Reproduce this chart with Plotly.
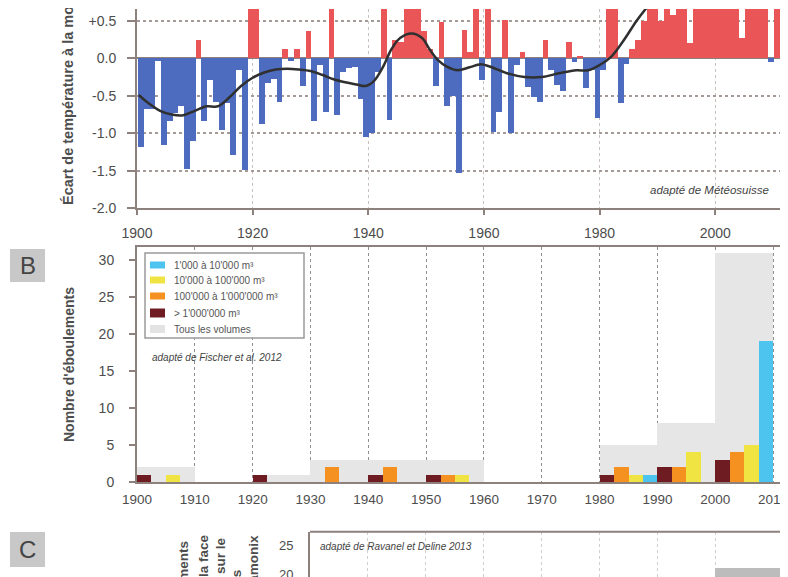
import plotly.graph_objects as go

# The page body has an 8 px margin: the figure is placed at (8, 8) in the window.
OFF = 8
W, H = 788 - OFF, 577 - OFF

# ---------------- DATA ----------------
# Panel A: annual temperature anomaly (°C), years 1901-2011
temp_years = list(range(1901, 2012))
temp_anom = [
    -1.18, -0.67, -0.68, -0.03, -1.16, -0.84, -0.73, -0.63, -1.47, -1.10,   # 1901-1910
    0.25, -0.83, -0.29, -0.58, -0.95, -0.60, -1.29, -0.16, -1.49, 0.85,     # 1911-1920
    0.95, -0.88, -0.33, -0.27, -0.58, 0.13, -0.03, 0.13, -0.37, 0.36,       # 1921-1930
    -0.83, -0.09, -0.71, 0.90, -0.75, -0.18, -0.13, -0.12, -0.54, -1.05,    # 1931-1940
    -1.00, -0.18, 0.80, -0.82, 0.24, 0.22, 1.10, 0.90, 0.80, 0.37,          # 1941-1950
    0.12, -0.37, 0.48, -0.64, -0.50, -1.53, 0.38, 0.09, 0.75, -0.29,        # 1951-1960
    0.80, -0.98, -0.71, 0.51, -1.00, -0.09, 0.08, -0.38, -0.51, -0.58,      # 1961-1970
    0.24, -0.16, -0.36, -0.44, 0.22, -0.05, 0.03, -0.40, -0.16, -0.79,      # 1971-1980
    -0.15, 0.80, 0.75, -0.60, -0.07, 0.13, 0.25, 0.50, 0.90, 1.00,          # 1981-1990
    0.50, 0.90, 0.58, 1.40, 0.80, 0.20, 0.90, 0.90, 0.80, 1.30,             # 1991-2000
    0.80, 1.10, 1.50, 0.80, 0.27, 1.00, 1.30, 0.80, 1.00, -0.05,            # 2001-2010
    1.60,                                                                   # 2011
]
# Smoothed curve
curve_years = [1900.3, 1902, 1904, 1906, 1908, 1910, 1912, 1914, 1916, 1918,
               1920, 1922, 1924, 1926, 1928, 1930, 1932, 1934, 1936, 1938,
               1939.5, 1941, 1942.5, 1944, 1945.5, 1947.5, 1949.3, 1950.6, 1952, 1953.6,
               1955.5, 1957.5, 1959.5, 1961, 1964, 1967, 1970, 1973, 1976, 1978,
               1980, 1982, 1984, 1986.5, 1988.3, 1990]
curve_vals = [-0.49, -0.60, -0.70, -0.75, -0.76, -0.70, -0.64, -0.64, -0.52, -0.37,
              -0.26, -0.19, -0.15, -0.14, -0.15, -0.17, -0.22, -0.28, -0.32, -0.35,
              -0.37, -0.30, -0.12, 0.12, 0.27, 0.33, 0.27, 0.12, -0.02, -0.11,
              -0.16, -0.12, -0.08, -0.11, -0.20, -0.25, -0.25, -0.20, -0.16, -0.16,
              -0.09, 0.02, 0.22, 0.51, 0.69, 0.85]

# Panel B: number of rockfalls per decade
decades = [1900, 1910, 1920, 1930, 1940, 1950, 1960, 1970, 1980, 1990, 2000]
n_small = [0, 0, 0, 0, 0, 0, 0, 0, 1, 0, 19]     # 1'000 - 10'000 m3
n_medium = [1, 0, 0, 0, 0, 1, 0, 0, 1, 4, 5]     # 10'000 - 100'000 m3
n_large = [0, 0, 0, 2, 2, 1, 0, 0, 2, 2, 4]      # 100'000 - 1'000'000 m3
n_huge = [1, 0, 1, 0, 1, 1, 0, 0, 1, 2, 3]       # > 1'000'000 m3
n_total = [2, 0, 1, 3, 3, 3, 0, 0, 5, 8, 31]     # all volumes
class_names = ["1'000 à 10'000 m³", "10'000 à 100'000 m³",
               "100'000 à 1'000'000 m³", "> 1'000'000 m³", "Tous les volumes"]

# Panel C (only its top is visible)
c_decades = [2000]
c_counts = [21]

# ---------------- STYLE ----------------
FONT = "Liberation Sans, Arial, sans-serif"
AX = "#8c817c"
TXT = "#4d4d4d"
RED = "#ea5558"
BLUE = "#4d6cbf"
col_small, col_medium, col_large, col_huge, col_total = "#4cc4ef", "#f0e443", "#f49120", "#6e1c22", "#e6e6e6"


def fx(p):
    return (p - OFF) / W


def fy(p):
    return 1 - (p - OFF) / H


fig = go.Figure()

# Panel A
fig.add_trace(go.Bar(x=temp_years, y=temp_anom, width=1, offset=-0.85,
                     marker=dict(color=[RED if v > 0 else BLUE for v in temp_anom], line_width=0),
                     xaxis="x", yaxis="y", showlegend=False))
fig.add_trace(go.Scatter(x=curve_years, y=curve_vals, mode="lines",
                         line=dict(color="#303030", width=2.5, shape="spline", smoothing=1.0),
                         xaxis="x", yaxis="y", showlegend=False))

# Panel B
fig.add_trace(go.Bar(x=decades, y=n_total, width=10, offset=0, marker=dict(color=col_total, line_width=0),
                     xaxis="x2", yaxis="y2", name=class_names[4], showlegend=False))
for vals, col, off, nm in [(n_huge, col_huge, 0, class_names[3]),
                           (n_large, col_large, 2.5, class_names[2]),
                           (n_medium, col_medium, 5, class_names[1]),
                           (n_small, col_small, 7.5, class_names[0])]:
    fig.add_trace(go.Bar(x=decades, y=vals, width=2.5, offset=off,
                         marker=dict(color=col, line_width=0),
                         xaxis="x2", yaxis="y2", name=nm, showlegend=False))

# Panel C
fig.add_trace(go.Bar(x=c_decades, y=c_counts, width=11.2, offset=0,
                     marker=dict(color="#bcbcbc", line_width=0),
                     xaxis="x3", yaxis="y3", showlegend=False))

tickfont = dict(family=FONT, size=14, color=TXT)

fig.update_layout(
    width=W, height=H, margin=dict(l=0, r=0, t=0, b=0, pad=0, autoexpand=False),
    paper_bgcolor="white", plot_bgcolor="white",
    barmode="overlay", bargap=0,
    font=dict(family=FONT, color=TXT),
    xaxis=dict(domain=[fx(137), fx(780)], range=[1900, 2011.2], anchor="y", automargin=False,
               tickvals=[1900, 1920, 1940, 1960, 1980, 2000], ticks="outside", ticklen=5, tickwidth=1.5,
               tickcolor=AX, showline=True, linecolor=AX, linewidth=2,
               showgrid=True, gridcolor="#c9c1bd", griddash="dot", gridwidth=1.2,
               zeroline=False, tickfont=tickfont, ticklabelstandoff=6),
    yaxis=dict(domain=[fy(208.3), fy(9)], range=[-2.0, 0.657], anchor="x", automargin=False,
               tickvals=[0.5, 0, -0.5, -1.0, -1.5, -2.0],
               ticktext=["+0.5", "0.0", "-0.5", "-1.0", "-1.5", "-2.0"],
               ticks="outside", ticklen=8, tickwidth=1.5, tickcolor=AX,
               showline=True, mirror=True, linecolor=AX, linewidth=2,
               showgrid=True, gridcolor="#a59a96", griddash="dot", gridwidth=1.5,
               zeroline=True, zerolinecolor=AX, zerolinewidth=1.5,
               tickfont=tickfont, ticklabelstandoff=8),
    xaxis2=dict(domain=[fx(137), fx(780)], range=[1900, 2011.2], anchor="y2", automargin=False,
                tickvals=decades + [2010], ticks="", showline=True, mirror=True,
                linecolor=AX, linewidth=2, ticklabeloverflow="allow",
                showgrid=True, gridcolor="#8f8f8f", griddash="dot", gridwidth=1.2,
                zeroline=False, tickfont=dict(family=FONT, size=13.5, color=TXT), ticklabelstandoff=4),
    yaxis2=dict(domain=[fy(482), fy(247)], range=[0, 31.76], anchor="x2", automargin=False,
                tickvals=[0, 5, 10, 15, 20, 25, 30], ticks="outside", ticklen=6, tickwidth=1.5,
                tickcolor=AX, showline=True, mirror=True, linecolor=AX, linewidth=2,
                showgrid=False, zeroline=False,
                tickfont=dict(family=FONT, size=14, color=TXT), ticklabelstandoff=12),
    xaxis3=dict(domain=[fx(310), fx(780)], range=[1930, 2011.2], anchor="y3", automargin=False,
                tickvals=[1940, 1950, 1960, 1970, 1980, 1990, 2000], showticklabels=False, ticks="",
                showline=False, showgrid=True, gridcolor="#cfcfcf", griddash="dot", gridwidth=1.2,
                zeroline=False),
    yaxis3=dict(domain=[0, fy(531.7)], range=[19.48, 27.3], anchor="x3", automargin=False,
                tickvals=[20, 25], ticks="", showline=True, mirror=True, linecolor=AX, linewidth=2,
                showgrid=False, zeroline=False, ticklabeloverflow="allow",
                tickfont=dict(family=FONT, size=13, color=TXT), ticklabelstandoff=12),
)

shapes = []
annotations = []

# top border of panel C
shapes.append(dict(type="line", xref="paper", yref="paper", x0=fx(310), x1=fx(780),
                   y0=fy(531.7), y1=fy(531.7), line=dict(color=AX, width=2)))

# panel letters
for letter, y0, y1 in [("B", 249, 282), ("C", 532, 567)]:
    shapes.append(dict(type="rect", xref="paper", yref="paper", x0=fx(10), x1=fx(45),
                       y0=fy(y1), y1=fy(y0), fillcolor="#c8c8c8", line_width=0, layer="above"))
    annotations.append(dict(xref="paper", yref="paper", x=fx(27.5), y=fy((y0 + y1) / 2),
                            text=letter, showarrow=False, xanchor="center", yanchor="middle",
                            font=dict(family=FONT, size=24, color="#444")))

# legend of panel B (drawn by hand)
shapes.append(dict(type="rect", xref="paper", yref="paper", x0=fx(145), x1=fx(304),
                   y0=fy(338), y1=fy(253), fillcolor="white", line=dict(color="#9b9b9b", width=1.5),
                   layer="above"))
legend_cols = [col_small, col_medium, col_large, col_huge, "#e3e3e3"]
legend_y = [265, 280, 296, 313, 329]
legend_h = [7, 7, 7, 9, 8]
for nm, col, yc, hh in zip(class_names, legend_cols, legend_y, legend_h):
    shapes.append(dict(type="rect", xref="paper", yref="paper", x0=fx(150), x1=fx(165),
                       y0=fy(yc + hh / 2), y1=fy(yc - hh / 2), fillcolor=col, line_width=0, layer="above"))
    annotations.append(dict(xref="paper", yref="paper", x=fx(172), y=fy(yc), text=nm,
                            showarrow=False, xanchor="left", yanchor="middle",
                            font=dict(family=FONT, size=10, color="#555")))

# credits
annotations.append(dict(xref="paper", yref="paper", x=fx(771), y=fy(190),
                        text="<i>adapté de Météosuisse</i>", showarrow=False,
                        xanchor="right", yanchor="middle", font=dict(family=FONT, size=11.5, color="#444")))
annotations.append(dict(xref="paper", yref="paper", x=fx(150), y=fy(357),
                        text="<i>adapté de Fischer et al. 2012</i>", showarrow=False,
                        xanchor="left", yanchor="middle", font=dict(family=FONT, size=10, color="#444")))
annotations.append(dict(xref="paper", yref="paper", x=fx(318), y=fy(546),
                        text="<i>adapté de Ravanel et Deline 2013</i>", showarrow=False,
                        xanchor="left", yanchor="middle", font=dict(family=FONT, size=10, color="#444")))

# axis titles
annotations.append(dict(xref="paper", yref="paper", x=fx(68), y=fy(207),
                        text="<b>Écart de température à la moyenne 1961-1990 (°C)</b>",
                        showarrow=False, textangle=-90, xanchor="center", yanchor="bottom",
                        font=dict(family=FONT, size=14.5, color=TXT)))
annotations.append(dict(xref="paper", yref="paper", x=fx(69), y=fy(365),
                        text="<b>Nombre d'éboulements</b>",
                        showarrow=False, textangle=-90, xanchor="center", yanchor="middle",
                        font=dict(family=FONT, size=14, color=TXT)))
c_lines = ["Nombre d'éboulements", "survenus dans la face", "ouest des Drus et sur le",
           "versant nord des Aiguilles", "du massif de Chamonix"]
c_x = [183, 203, 220, 236, 253]
c_top = [540, 532, 535, 568, 533]
for t, xx, yy in zip(c_lines, c_x, c_top):
    annotations.append(dict(xref="paper", yref="paper", x=fx(xx), y=fy(yy), text="<b>" + t + "</b>",
                            showarrow=False, textangle=-90, xanchor="center", yanchor="top",
                            font=dict(family=FONT, size=13.5, color=TXT)))

fig.update_layout(shapes=shapes, annotations=annotations)
fig.write_html("out.html")
